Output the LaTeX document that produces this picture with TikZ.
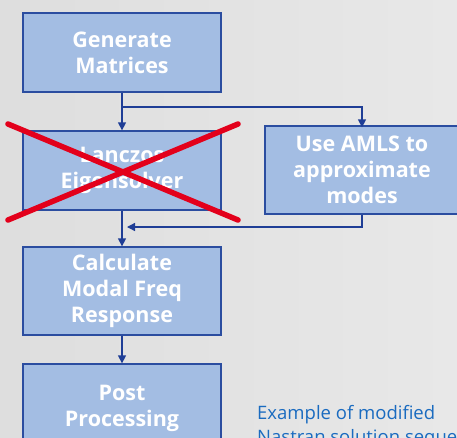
\documentclass[tikz,border=0pt]{standalone}
\usepackage{fontspec}
\setmainfont{Open Sans}
\usetikzlibrary{arrows.meta}

\definecolor{boxfill}{RGB}{163,189,227}
\definecolor{boxedge}{RGB}{43,77,160}
\definecolor{linkblue}{RGB}{31,62,150}
\definecolor{notegray}{RGB}{26,107,192}
\definecolor{crossred}{RGB}{227,0,27}

\tikzset{
  stepbox/.style={draw=boxedge, line width=1.3pt, fill=boxfill, text=white,
    font=\fontsize{21.5}{26}\selectfont\bfseries, align=center,
    minimum width=198pt, inner sep=0pt},
  link/.style={draw=linkblue, line width=1.3pt,
    -{Triangle[length=8pt,width=8pt]}},
}

\begin{document}
\begin{tikzpicture}[x=1pt,y=-1pt]

% Fond gris
\shade[left color=black!13, right color=black!9] (0,0) rectangle (457,437);
\useasboundingbox (0,0) rectangle (457,437);
\clip (0,0) rectangle (457,437);

% Boîtes
\node[stepbox, minimum height=79pt] (gen) at (122,52.5) {Generate\\Matrices};
\node[stepbox, minimum height=79pt] (lanczos) at (122,170.5) {Lanczos\\Eigensolver};
\node[stepbox, minimum width=194pt, minimum height=88pt] (amls) at (362,170) {Use AMLS to\\approximate\\modes};
\node[stepbox, minimum height=88pt] (calc) at (122,291) {Calculate\\Modal Freq\\Response};
\node[stepbox, minimum height=88pt] (post) at (122,408) {Post\\Processing};

% Points de jonction
\coordinate (split) at (122,107);
\coordinate (join) at (127,227);

% Flèches
\draw[link] (gen.south) -- (lanczos.north);
\draw[link] (split) -| ([yshift=-2pt]amls.north);
\draw[link] (lanczos.south) -- (calc.north);
\draw[link] (amls.south) |- (join);
\draw[link] (calc.south) -- (post.north);

% Croix rouge
\draw[crossred, line width=5.5pt, line cap=round] (8,124) -- (238,220);
\draw[crossred, line width=5.5pt, line cap=round] (238,124) -- (8,220);

% Légende
\node[anchor=north west, text=notegray, align=left, inner sep=0pt,
  font=\fontsize{18.5}{24}\selectfont] (note) at (257,405)
  {Example of modified\\Nastran solution sequence};

\end{tikzpicture}
\end{document}
